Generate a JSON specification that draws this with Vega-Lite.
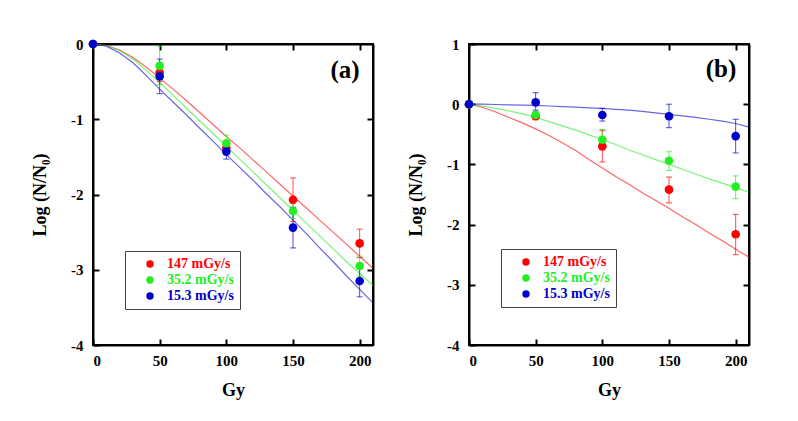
{
"$schema": "https://vega.github.io/schema/vega-lite/v6.json",
"background": "white",
"padding": {"left": 30, "top": 36, "right": 5, "bottom": 5},
"spacing": 96,
"bounds": "flush",
"resolve": {"scale": {"color": "independent", "x": "independent", "y": "independent"}, "legend": {"color": "independent"}},
"config": {
  "font": "Liberation Serif",
  "view": {"stroke": "black", "strokeWidth": 2},
  "axis": {"labelFont": "Liberation Serif", "labelFontWeight": "bold", "labelFontSize": 15, "labelColor": "black", "titleFont": "Liberation Serif", "titleFontWeight": "bold", "titleFontSize": 18, "titleColor": "black", "domainColor": "black", "domainWidth": 2, "tickColor": "black", "tickWidth": 2, "tickSize": -6, "grid": false},
  "axisBottom": {"labelPadding": 14, "titlePadding": 13},
  "axisLeft": {"labelPadding": 16, "titlePadding": 21.5},
  "legend": {"labelFont": "Liberation Serif", "labelFontWeight": "bold", "labelFontSize": 14, "titleFont": "Liberation Serif"}
},
"datasets": {
  "pa": [
    {"rate": "147 mGy/s", "dose": 0, "logs": 0, "lo": null, "hi": null},
    {"rate": "147 mGy/s", "dose": 50, "logs": -0.38, "lo": -0.5, "hi": -0.26},
    {"rate": "147 mGy/s", "dose": 100, "logs": -1.38, "lo": -1.46, "hi": -1.3},
    {"rate": "147 mGy/s", "dose": 150, "logs": -2.07, "lo": -2.36, "hi": -1.78},
    {"rate": "147 mGy/s", "dose": 200, "logs": -2.65, "lo": -2.84, "hi": -2.46},
    {"rate": "35.2 mGy/s", "dose": 0, "logs": 0, "lo": null, "hi": null},
    {"rate": "35.2 mGy/s", "dose": 50, "logs": -0.29, "lo": -0.54, "hi": -0.03},
    {"rate": "35.2 mGy/s", "dose": 100, "logs": -1.32, "lo": -1.42, "hi": -1.21},
    {"rate": "35.2 mGy/s", "dose": 150, "logs": -2.22, "lo": -2.32, "hi": -2.12},
    {"rate": "35.2 mGy/s", "dose": 200, "logs": -2.95, "lo": -3.08, "hi": -2.82},
    {"rate": "15.3 mGy/s", "dose": 0, "logs": 0, "lo": null, "hi": null},
    {"rate": "15.3 mGy/s", "dose": 50, "logs": -0.43, "lo": -0.66, "hi": -0.2},
    {"rate": "15.3 mGy/s", "dose": 100, "logs": -1.43, "lo": -1.53, "hi": -1.33},
    {"rate": "15.3 mGy/s", "dose": 150, "logs": -2.44, "lo": -2.71, "hi": -2.17},
    {"rate": "15.3 mGy/s", "dose": 200, "logs": -3.15, "lo": -3.36, "hi": -2.94}
  ],
  "pb": [
    {"rate": "147 mGy/s", "dose": 0, "logs": 0, "lo": null, "hi": null},
    {"rate": "147 mGy/s", "dose": 50, "logs": -0.2, "lo": -0.26, "hi": -0.14},
    {"rate": "147 mGy/s", "dose": 100, "logs": -0.7, "lo": -0.96, "hi": -0.44},
    {"rate": "147 mGy/s", "dose": 150, "logs": -1.42, "lo": -1.64, "hi": -1.21},
    {"rate": "147 mGy/s", "dose": 200, "logs": -2.16, "lo": -2.5, "hi": -1.83},
    {"rate": "35.2 mGy/s", "dose": 0, "logs": 0, "lo": null, "hi": null},
    {"rate": "35.2 mGy/s", "dose": 50, "logs": -0.18, "lo": -0.23, "hi": -0.13},
    {"rate": "35.2 mGy/s", "dose": 100, "logs": -0.59, "lo": -0.75, "hi": -0.42},
    {"rate": "35.2 mGy/s", "dose": 150, "logs": -0.94, "lo": -1.1, "hi": -0.79},
    {"rate": "35.2 mGy/s", "dose": 200, "logs": -1.37, "lo": -1.57, "hi": -1.19},
    {"rate": "15.3 mGy/s", "dose": 0, "logs": 0, "lo": null, "hi": null},
    {"rate": "15.3 mGy/s", "dose": 50, "logs": 0.03, "lo": -0.1, "hi": 0.19},
    {"rate": "15.3 mGy/s", "dose": 100, "logs": -0.18, "lo": -0.28, "hi": -0.07},
    {"rate": "15.3 mGy/s", "dose": 150, "logs": -0.2, "lo": -0.39, "hi": 0.0},
    {"rate": "15.3 mGy/s", "dose": 200, "logs": -0.53, "lo": -0.81, "hi": -0.25}
  ],
  "ca": [
    {"rate": "147 mGy/s", "dose": 0, "logs": 0},
    {"rate": "147 mGy/s", "dose": 10, "logs": -0.02},
    {"rate": "147 mGy/s", "dose": 20, "logs": -0.08},
    {"rate": "147 mGy/s", "dose": 30, "logs": -0.18},
    {"rate": "147 mGy/s", "dose": 40, "logs": -0.31},
    {"rate": "147 mGy/s", "dose": 50, "logs": -0.45},
    {"rate": "147 mGy/s", "dose": 60, "logs": -0.6},
    {"rate": "147 mGy/s", "dose": 70, "logs": -0.75},
    {"rate": "147 mGy/s", "dose": 80, "logs": -0.91},
    {"rate": "147 mGy/s", "dose": 90, "logs": -1.07},
    {"rate": "147 mGy/s", "dose": 100, "logs": -1.23},
    {"rate": "147 mGy/s", "dose": 110, "logs": -1.38},
    {"rate": "147 mGy/s", "dose": 120, "logs": -1.54},
    {"rate": "147 mGy/s", "dose": 130, "logs": -1.7},
    {"rate": "147 mGy/s", "dose": 140, "logs": -1.86},
    {"rate": "147 mGy/s", "dose": 150, "logs": -2.02},
    {"rate": "147 mGy/s", "dose": 160, "logs": -2.18},
    {"rate": "147 mGy/s", "dose": 170, "logs": -2.34},
    {"rate": "147 mGy/s", "dose": 180, "logs": -2.5},
    {"rate": "147 mGy/s", "dose": 190, "logs": -2.66},
    {"rate": "147 mGy/s", "dose": 200, "logs": -2.82},
    {"rate": "147 mGy/s", "dose": 210, "logs": -2.98},
    {"rate": "35.2 mGy/s", "dose": 0, "logs": 0},
    {"rate": "35.2 mGy/s", "dose": 10, "logs": -0.02},
    {"rate": "35.2 mGy/s", "dose": 20, "logs": -0.09},
    {"rate": "35.2 mGy/s", "dose": 30, "logs": -0.2},
    {"rate": "35.2 mGy/s", "dose": 40, "logs": -0.35},
    {"rate": "35.2 mGy/s", "dose": 50, "logs": -0.51},
    {"rate": "35.2 mGy/s", "dose": 60, "logs": -0.68},
    {"rate": "35.2 mGy/s", "dose": 70, "logs": -0.85},
    {"rate": "35.2 mGy/s", "dose": 80, "logs": -1.02},
    {"rate": "35.2 mGy/s", "dose": 90, "logs": -1.19},
    {"rate": "35.2 mGy/s", "dose": 100, "logs": -1.36},
    {"rate": "35.2 mGy/s", "dose": 110, "logs": -1.53},
    {"rate": "35.2 mGy/s", "dose": 120, "logs": -1.7},
    {"rate": "35.2 mGy/s", "dose": 130, "logs": -1.87},
    {"rate": "35.2 mGy/s", "dose": 140, "logs": -2.04},
    {"rate": "35.2 mGy/s", "dose": 150, "logs": -2.21},
    {"rate": "35.2 mGy/s", "dose": 160, "logs": -2.38},
    {"rate": "35.2 mGy/s", "dose": 170, "logs": -2.55},
    {"rate": "35.2 mGy/s", "dose": 180, "logs": -2.72},
    {"rate": "35.2 mGy/s", "dose": 190, "logs": -2.89},
    {"rate": "35.2 mGy/s", "dose": 200, "logs": -3.05},
    {"rate": "35.2 mGy/s", "dose": 210, "logs": -3.21},
    {"rate": "15.3 mGy/s", "dose": 0, "logs": 0},
    {"rate": "15.3 mGy/s", "dose": 10, "logs": -0.03},
    {"rate": "15.3 mGy/s", "dose": 20, "logs": -0.12},
    {"rate": "15.3 mGy/s", "dose": 30, "logs": -0.25},
    {"rate": "15.3 mGy/s", "dose": 40, "logs": -0.42},
    {"rate": "15.3 mGy/s", "dose": 50, "logs": -0.6},
    {"rate": "15.3 mGy/s", "dose": 60, "logs": -0.77},
    {"rate": "15.3 mGy/s", "dose": 70, "logs": -0.94},
    {"rate": "15.3 mGy/s", "dose": 80, "logs": -1.12},
    {"rate": "15.3 mGy/s", "dose": 90, "logs": -1.29},
    {"rate": "15.3 mGy/s", "dose": 100, "logs": -1.47},
    {"rate": "15.3 mGy/s", "dose": 110, "logs": -1.64},
    {"rate": "15.3 mGy/s", "dose": 120, "logs": -1.81},
    {"rate": "15.3 mGy/s", "dose": 130, "logs": -1.99},
    {"rate": "15.3 mGy/s", "dose": 140, "logs": -2.16},
    {"rate": "15.3 mGy/s", "dose": 150, "logs": -2.34},
    {"rate": "15.3 mGy/s", "dose": 160, "logs": -2.52},
    {"rate": "15.3 mGy/s", "dose": 170, "logs": -2.71},
    {"rate": "15.3 mGy/s", "dose": 180, "logs": -2.89},
    {"rate": "15.3 mGy/s", "dose": 190, "logs": -3.08},
    {"rate": "15.3 mGy/s", "dose": 200, "logs": -3.26},
    {"rate": "15.3 mGy/s", "dose": 210, "logs": -3.44}
  ],
  "cb": [
    {"rate": "147 mGy/s", "dose": 0, "logs": 0},
    {"rate": "147 mGy/s", "dose": 10, "logs": -0.05},
    {"rate": "147 mGy/s", "dose": 20, "logs": -0.13},
    {"rate": "147 mGy/s", "dose": 30, "logs": -0.22},
    {"rate": "147 mGy/s", "dose": 40, "logs": -0.31},
    {"rate": "147 mGy/s", "dose": 50, "logs": -0.41},
    {"rate": "147 mGy/s", "dose": 60, "logs": -0.52},
    {"rate": "147 mGy/s", "dose": 70, "logs": -0.64},
    {"rate": "147 mGy/s", "dose": 80, "logs": -0.77},
    {"rate": "147 mGy/s", "dose": 90, "logs": -0.92},
    {"rate": "147 mGy/s", "dose": 100, "logs": -1.06},
    {"rate": "147 mGy/s", "dose": 110, "logs": -1.2},
    {"rate": "147 mGy/s", "dose": 120, "logs": -1.33},
    {"rate": "147 mGy/s", "dose": 130, "logs": -1.47},
    {"rate": "147 mGy/s", "dose": 140, "logs": -1.6},
    {"rate": "147 mGy/s", "dose": 150, "logs": -1.73},
    {"rate": "147 mGy/s", "dose": 160, "logs": -1.87},
    {"rate": "147 mGy/s", "dose": 170, "logs": -2.0},
    {"rate": "147 mGy/s", "dose": 180, "logs": -2.14},
    {"rate": "147 mGy/s", "dose": 190, "logs": -2.27},
    {"rate": "147 mGy/s", "dose": 200, "logs": -2.41},
    {"rate": "147 mGy/s", "dose": 210, "logs": -2.54},
    {"rate": "35.2 mGy/s", "dose": 0, "logs": 0},
    {"rate": "35.2 mGy/s", "dose": 10, "logs": -0.03},
    {"rate": "35.2 mGy/s", "dose": 20, "logs": -0.07},
    {"rate": "35.2 mGy/s", "dose": 30, "logs": -0.11},
    {"rate": "35.2 mGy/s", "dose": 40, "logs": -0.16},
    {"rate": "35.2 mGy/s", "dose": 50, "logs": -0.22},
    {"rate": "35.2 mGy/s", "dose": 60, "logs": -0.29},
    {"rate": "35.2 mGy/s", "dose": 70, "logs": -0.36},
    {"rate": "35.2 mGy/s", "dose": 80, "logs": -0.43},
    {"rate": "35.2 mGy/s", "dose": 90, "logs": -0.51},
    {"rate": "35.2 mGy/s", "dose": 100, "logs": -0.59},
    {"rate": "35.2 mGy/s", "dose": 110, "logs": -0.67},
    {"rate": "35.2 mGy/s", "dose": 120, "logs": -0.76},
    {"rate": "35.2 mGy/s", "dose": 130, "logs": -0.84},
    {"rate": "35.2 mGy/s", "dose": 140, "logs": -0.92},
    {"rate": "35.2 mGy/s", "dose": 150, "logs": -1.0},
    {"rate": "35.2 mGy/s", "dose": 160, "logs": -1.08},
    {"rate": "35.2 mGy/s", "dose": 170, "logs": -1.16},
    {"rate": "35.2 mGy/s", "dose": 180, "logs": -1.24},
    {"rate": "35.2 mGy/s", "dose": 190, "logs": -1.31},
    {"rate": "35.2 mGy/s", "dose": 200, "logs": -1.39},
    {"rate": "35.2 mGy/s", "dose": 210, "logs": -1.46},
    {"rate": "15.3 mGy/s", "dose": 0, "logs": 0},
    {"rate": "15.3 mGy/s", "dose": 10, "logs": 0},
    {"rate": "15.3 mGy/s", "dose": 20, "logs": -0.005},
    {"rate": "15.3 mGy/s", "dose": 30, "logs": -0.01},
    {"rate": "15.3 mGy/s", "dose": 40, "logs": -0.015},
    {"rate": "15.3 mGy/s", "dose": 50, "logs": -0.02},
    {"rate": "15.3 mGy/s", "dose": 60, "logs": -0.03},
    {"rate": "15.3 mGy/s", "dose": 70, "logs": -0.04},
    {"rate": "15.3 mGy/s", "dose": 80, "logs": -0.05},
    {"rate": "15.3 mGy/s", "dose": 90, "logs": -0.06},
    {"rate": "15.3 mGy/s", "dose": 100, "logs": -0.07},
    {"rate": "15.3 mGy/s", "dose": 110, "logs": -0.085},
    {"rate": "15.3 mGy/s", "dose": 120, "logs": -0.1},
    {"rate": "15.3 mGy/s", "dose": 130, "logs": -0.12},
    {"rate": "15.3 mGy/s", "dose": 140, "logs": -0.145},
    {"rate": "15.3 mGy/s", "dose": 150, "logs": -0.17},
    {"rate": "15.3 mGy/s", "dose": 160, "logs": -0.195},
    {"rate": "15.3 mGy/s", "dose": 170, "logs": -0.22},
    {"rate": "15.3 mGy/s", "dose": 180, "logs": -0.25},
    {"rate": "15.3 mGy/s", "dose": 190, "logs": -0.28},
    {"rate": "15.3 mGy/s", "dose": 200, "logs": -0.32},
    {"rate": "15.3 mGy/s", "dose": 210, "logs": -0.38}
  ]
},
"hconcat": [
  {
    "width": 280, "height": 301,
    "resolve": {"axis": {"x": "independent", "y": "independent"}},
    "layer": [
      {
        "data": {"name": "ca"},
        "mark": {"type": "line", "strokeWidth": 1.2, "opacity": 0.6},
        "encoding": {
          "x": {"field": "dose", "type": "quantitative", "scale": {"domain": [0, 210], "nice": false}, "axis": {"orient": "bottom", "values": [0, 50, 100, 150, 200], "title": "Gy"}},
          "y": {"field": "logs", "type": "quantitative", "scale": {"domain": [-4, 0], "nice": false}, "axis": {"orient": "left", "values": [0, -1, -2, -3, -4], "title": "Log (N/N₀)", "labelExpr": "datum.value < 0 ? '-' + abs(datum.value) : '' + datum.value"}},
          "stroke": {"field": "rate", "type": "nominal", "scale": {"domain": ["147 mGy/s", "35.2 mGy/s", "15.3 mGy/s"], "range": ["#ff0000", "#22ee22", "#0000cc"]}, "legend": null}
        }
      },
      {
        "data": {"name": "pa"},
        "transform": [{"filter": "isValid(datum.lo)"}],
        "mark": {"type": "rule", "strokeWidth": 1, "opacity": 0.7},
        "encoding": {
          "x": {"field": "dose", "type": "quantitative", "axis": null},
          "y": {"field": "lo", "type": "quantitative", "axis": null},
          "y2": {"field": "hi"},
          "stroke": {"field": "rate", "type": "nominal", "legend": null}
        }
      },
      {
        "data": {"name": "pa"},
        "transform": [{"filter": "isValid(datum.lo)"}, {"fold": ["lo", "hi"], "as": ["end", "ev"]}],
        "mark": {"type": "tick", "orient": "horizontal", "size": 6, "thickness": 1, "opacity": 0.7},
        "encoding": {
          "x": {"field": "dose", "type": "quantitative", "axis": null},
          "y": {"field": "ev", "type": "quantitative", "axis": null},
          "fill": {"field": "rate", "type": "nominal", "scale": {"domain": ["147 mGy/s", "35.2 mGy/s", "15.3 mGy/s"], "range": ["#ff0000", "#22ee22", "#0000cc"]}, "legend": null}
        }
      },
      {
        "data": {"name": "pa"},
        "mark": {"type": "point", "filled": true, "size": 75, "opacity": 1},
        "encoding": {
          "x": {"field": "dose", "type": "quantitative", "axis": {"orient": "top", "labels": false, "title": null, "values": [50, 100, 150, 200]}},
          "y": {"field": "logs", "type": "quantitative", "axis": {"orient": "right", "labels": false, "title": null, "values": [-1, -2, -3]}},
          "color": {"field": "rate", "type": "nominal", "scale": {"domain": ["147 mGy/s", "35.2 mGy/s", "15.3 mGy/s"], "range": ["#ff0000", "#22ee22", "#0000cc"]},
            "legend": {"orient": "none", "legendX": 32, "legendY": 207, "title": null, "padding": 6, "symbolSize": 55, "symbolType": "circle", "symbolOffset": 12, "labelOffset": 10, "rowPadding": 2, "labelFont": "Liberation Serif", "labelFontWeight": "bold", "labelFontSize": 14, "strokeColor": "#444", "symbolStrokeWidth": 0,
              "labelColor": {"expr": "datum.value === '147 mGy/s' ? '#ff0000' : datum.value === '35.2 mGy/s' ? '#22ee22' : '#0000cc'"},
              "encode": {"labels": {"fill": {"condition": [{"test": "datum.value === '147 mGy/s'", "value": "#ff0000"}, {"test": "datum.value === '35.2 mGy/s'", "value": "#22ee22"}], "value": "#0000cc"}}, "legend": {"strokeWidth": {"value": 1.5}}}}}
        }
      },
      {
        "data": {"values": [{}]},
        "mark": {"type": "text", "font": "Liberation Serif", "fontSize": 25, "fontWeight": "bold", "align": "center", "baseline": "middle", "color": "black"},
        "encoding": {
          "x": {"datum": 189, "type": "quantitative", "axis": null},
          "y": {"datum": -0.35, "type": "quantitative", "axis": null},
          "text": {"value": "(a)"}
        }
      }
    ]
  },
  {
    "width": 280, "height": 301,
    "resolve": {"axis": {"x": "independent", "y": "independent"}},
    "layer": [
      {
        "data": {"name": "cb"},
        "mark": {"type": "line", "strokeWidth": 1.2, "opacity": 0.6},
        "encoding": {
          "x": {"field": "dose", "type": "quantitative", "scale": {"domain": [0, 210], "nice": false}, "axis": {"orient": "bottom", "values": [0, 50, 100, 150, 200], "title": "Gy"}},
          "y": {"field": "logs", "type": "quantitative", "scale": {"domain": [-4, 1], "nice": false}, "axis": {"orient": "left", "values": [1, 0, -1, -2, -3, -4], "title": "Log (N/N₀)", "labelExpr": "datum.value < 0 ? '-' + abs(datum.value) : '' + datum.value"}},
          "stroke": {"field": "rate", "type": "nominal", "scale": {"domain": ["147 mGy/s", "35.2 mGy/s", "15.3 mGy/s"], "range": ["#ff0000", "#22ee22", "#0000cc"]}, "legend": null}
        }
      },
      {
        "data": {"name": "pb"},
        "transform": [{"filter": "isValid(datum.lo)"}],
        "mark": {"type": "rule", "strokeWidth": 1, "opacity": 0.7},
        "encoding": {
          "x": {"field": "dose", "type": "quantitative", "axis": null},
          "y": {"field": "lo", "type": "quantitative", "axis": null},
          "y2": {"field": "hi"},
          "stroke": {"field": "rate", "type": "nominal", "legend": null}
        }
      },
      {
        "data": {"name": "pb"},
        "transform": [{"filter": "isValid(datum.lo)"}, {"fold": ["lo", "hi"], "as": ["end", "ev"]}],
        "mark": {"type": "tick", "orient": "horizontal", "size": 6, "thickness": 1, "opacity": 0.7},
        "encoding": {
          "x": {"field": "dose", "type": "quantitative", "axis": null},
          "y": {"field": "ev", "type": "quantitative", "axis": null},
          "fill": {"field": "rate", "type": "nominal", "scale": {"domain": ["147 mGy/s", "35.2 mGy/s", "15.3 mGy/s"], "range": ["#ff0000", "#22ee22", "#0000cc"]}, "legend": null}
        }
      },
      {
        "data": {"name": "pb"},
        "mark": {"type": "point", "filled": true, "size": 75, "opacity": 1},
        "encoding": {
          "x": {"field": "dose", "type": "quantitative", "axis": {"orient": "top", "labels": false, "title": null, "values": [50, 100, 150, 200]}},
          "y": {"field": "logs", "type": "quantitative", "axis": {"orient": "right", "labels": false, "title": null, "values": [0, -1, -2, -3]}},
          "color": {"field": "rate", "type": "nominal", "scale": {"domain": ["147 mGy/s", "35.2 mGy/s", "15.3 mGy/s"], "range": ["#ff0000", "#22ee22", "#0000cc"]},
            "legend": {"orient": "none", "legendX": 32, "legendY": 205, "title": null, "padding": 6, "symbolSize": 55, "symbolType": "circle", "symbolOffset": 12, "labelOffset": 10, "rowPadding": 2, "labelFont": "Liberation Serif", "labelFontWeight": "bold", "labelFontSize": 14, "strokeColor": "#444", "symbolStrokeWidth": 0,
              "labelColor": {"expr": "datum.value === '147 mGy/s' ? '#ff0000' : datum.value === '35.2 mGy/s' ? '#22ee22' : '#0000cc'"},
              "encode": {"labels": {"fill": {"condition": [{"test": "datum.value === '147 mGy/s'", "value": "#ff0000"}, {"test": "datum.value === '35.2 mGy/s'", "value": "#22ee22"}], "value": "#0000cc"}}, "legend": {"strokeWidth": {"value": 1.5}}}}}
        }
      },
      {
        "data": {"values": [{}]},
        "mark": {"type": "text", "font": "Liberation Serif", "fontSize": 25, "fontWeight": "bold", "align": "center", "baseline": "middle", "color": "black"},
        "encoding": {
          "x": {"datum": 189, "type": "quantitative", "axis": null},
          "y": {"datum": 0.58, "type": "quantitative", "axis": null},
          "text": {"value": "(b)"}
        }
      }
    ]
  }
]
}
